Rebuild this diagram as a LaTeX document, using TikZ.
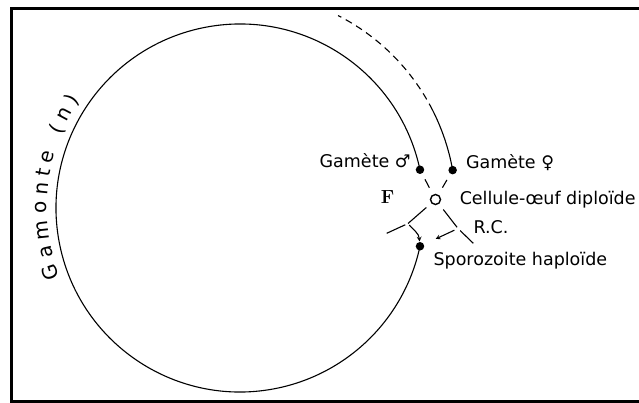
\documentclass[tikz,border=0pt]{standalone}
\usepackage{fontspec}
\newfontfamily\hand{DejaVu Sans}
\usetikzlibrary{positioning,decorations.text}
\tikzset{
	lbl/.style={font=\hand\fontsize{17.5}{20}\selectfont, inner sep=1pt},
	gamete/.style={circle, fill, inner sep=0pt, minimum size=8.5pt},
	oeuf/.style={circle, draw, line width=1.4pt, inner sep=0pt, minimum size=10pt},
}
\begin{document}
\begin{tikzpicture}[x=1pt, y=1pt, >=stealth, line width=1.1pt]
	\useasboundingbox (0,0) rectangle (639,402);
	\draw[line width=3pt] (639,393.5) -- (11,393.5) -- (11,1) -- (639,1);
	\coordinate (centre) at (240,194);
	\node[gamete] (male) at ([shift={(12:184)}]centre) {};
	\node[gamete] (femelle) at ([shift={(10.1:216)}]centre) {};
	\node[gamete] (sporo) at ([shift={(-12:184)}]centre) {};
	\node[oeuf] (oeuf) at (435.5,202.5) {};
	\coordinate (forkL) at (408,178.5);
	\coordinate (forkR) at (458,173.5);
	\coordinate (bordG) at (386.7,168.7);
	\coordinate (bordD) at (473.3,158.7);
	\draw (male.center) arc[start angle=12, end angle=348, radius=184];
	\draw (femelle.center) arc[start angle=10.1, end angle=27, radius=216] coordinate (rupture);
	\draw[dash pattern=on 7pt off 5pt] (rupture) arc[start angle=27, end angle=63, radius=216];
	\path[decorate, decoration={text along path, text align={fit to path},
		text={|\hand\fontsize{20}{24}\selectfont|Gamonte (n)}}]
		([shift={(201:193)}]centre) arc[start angle=201, end angle=146, radius=193];
	\draw[shorten <=6pt, shorten >=7.5pt] (male) -- (oeuf);
	\draw[shorten <=6.5pt, shorten >=8pt] (femelle) -- (oeuf);
	\draw[shorten <=6.5pt] (oeuf) -- (forkL);
	\draw[shorten <=3pt] (forkL) -- (bordG);
	\draw[->, shorten <=2pt] (forkL) to[out=-50, in=95] (sporo);
	\draw[shorten <=7pt, shorten >=1.5pt] (oeuf) -- (forkR);
	\draw[shorten <=3pt] (forkR) -- (bordD);
	\draw[->, shorten <=4pt, shorten >=12.5pt] (forkR) -- (sporo);
	\node[lbl, anchor=base east] (lmale) at ([xshift=-3pt, yshift=2pt]male.west) {Gamète ♂};
	\node[lbl, anchor=base west] (lfemelle) at ([xshift=7pt, yshift=2pt]femelle.east) {Gamète ♀};
	\node[lbl, anchor=base west] (loeuf) at ([xshift=17pt, yshift=-5.5pt]oeuf.east) {Cellule-œuf diploïde};
	\node[lbl, anchor=base west] (rc) at (472,169) {R.C.};
	\node[lbl, anchor=base west] (lsporo) at (432,137) {Sporozoite haploïde};
	\node[font=\rmfamily\bfseries\fontsize{19}{22}\selectfont] (F) at (387.5,204.5) {F};
\end{tikzpicture}
\end{document}
